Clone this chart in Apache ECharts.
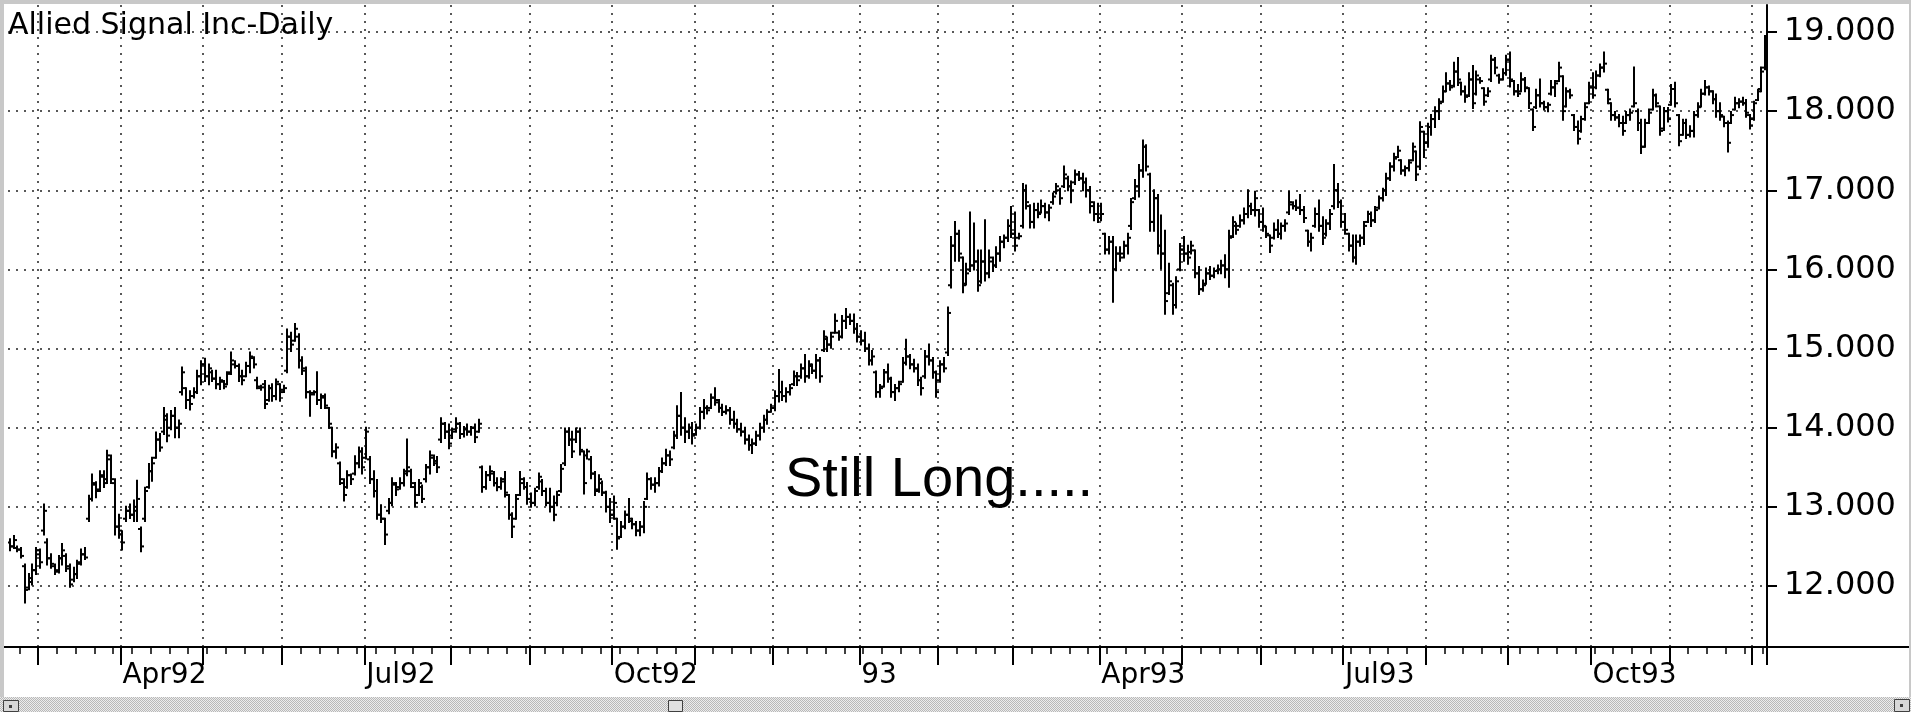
<!DOCTYPE html>
<html>
<head>
<meta charset="UTF-8">
<title>Allied Signal Inc-Daily</title>
<style>
	html, body { margin: 0; padding: 0; background: #fff; }
	#chart { width: 1911px; height: 712px; }
</style>
</head>
<body>
<div id="chart"></div>
<script src="https://cdn.jsdelivr.net/npm/echarts@6/dist/echarts.min.js"></script>
<script>
// daily bars, one array per month: [open, high, low, close]
var feb92 = [[12.55,12.59,12.45,12.50],[12.50,12.63,12.48,12.58],[12.48,12.50,12.44,12.46],[12.46,12.48,12.36,12.38],[12.25,12.27,11.79,11.95],[11.98,12.15,11.96,12.10],[12.05,12.27,12.02,12.20],[12.20,12.48,12.15,12.45]];
var mar92 = [[12.40,12.46,12.23,12.30],[12.70,13.03,12.65,12.95],[12.55,12.59,12.27,12.35],[12.35,12.40,12.23,12.28],[12.25,12.27,12.15,12.18],[12.20,12.38,12.17,12.35],[12.35,12.53,12.27,12.45],[12.38,12.40,12.19,12.25],[12.22,12.27,11.99,12.02],[12.08,12.23,12.06,12.15],[12.15,12.32,12.10,12.28],[12.30,12.46,12.27,12.40],[12.40,12.48,12.34,12.36],[12.85,13.14,12.82,13.10],[13.10,13.41,13.08,13.30],[13.28,13.31,13.12,13.20],[13.22,13.45,13.20,13.40],[13.38,13.45,13.25,13.30],[13.35,13.71,13.30,13.65],[13.60,13.65,13.30,13.35],[13.30,13.35,12.65,12.75],[12.75,12.90,12.61,12.70]];
var apr92 = [[12.65,12.69,12.46,12.55],[12.85,13.00,12.82,12.95],[12.95,13.03,12.86,12.90],[12.90,13.08,12.82,13.00],[12.95,13.33,12.82,13.10],[12.72,12.74,12.44,12.50],[12.85,13.24,12.82,13.20],[13.25,13.54,13.24,13.45],[13.45,13.62,13.33,13.55],[13.62,13.94,13.62,13.85],[13.85,13.92,13.71,13.75],[13.95,14.25,13.92,14.15],[14.10,14.17,13.83,13.90],[14.00,14.21,13.98,14.15],[14.15,14.25,13.88,14.00],[14.00,14.09,13.88,14.05],[14.45,14.76,14.42,14.70],[14.50,14.50,14.25,14.35],[14.35,14.46,14.23,14.30],[14.40,14.50,14.38,14.45],[14.45,14.72,14.44,14.65],[14.65,14.84,14.55,14.80]];
var may92 = [[14.80,14.87,14.59,14.65],[14.65,14.80,14.55,14.75],[14.70,14.72,14.59,14.62],[14.62,14.72,14.50,14.55],[14.55,14.63,14.49,14.60],[14.58,14.59,14.50,14.52],[14.55,14.70,14.55,14.68],[14.70,14.95,14.68,14.85],[14.80,14.84,14.76,14.78],[14.78,14.80,14.59,14.65],[14.65,14.72,14.55,14.60],[14.65,14.82,14.65,14.78],[14.78,14.95,14.70,14.90],[14.88,14.89,14.76,14.80],[14.60,14.63,14.50,14.52],[14.50,14.53,14.48,14.51],[14.55,14.59,14.25,14.30],[14.35,14.53,14.34,14.50],[14.50,14.55,14.34,14.40],[14.40,14.61,14.36,14.58],[14.55,14.55,14.34,14.45]];
var jun92 = [[14.48,14.53,14.45,14.50],[14.72,15.24,14.70,15.15],[15.15,15.20,14.97,15.05],[15.10,15.31,15.10,15.25],[15.15,15.18,14.76,14.85],[14.85,14.89,14.68,14.75],[14.72,14.76,14.38,14.45],[14.45,14.46,14.15,14.42],[14.44,14.46,14.42,14.45],[14.45,14.70,14.30,14.35],[14.35,14.42,14.25,14.38],[14.40,14.42,14.25,14.28],[14.25,14.25,14.00,14.05],[14.00,14.00,13.64,13.70],[13.70,13.79,13.62,13.75],[13.55,13.56,13.29,13.35],[13.30,13.35,13.08,13.15],[13.25,13.45,13.24,13.40],[13.40,13.41,13.29,13.35],[13.42,13.64,13.41,13.55],[13.55,13.75,13.50,13.70],[13.70,13.74,13.42,13.50]];
var jul92 = [[13.62,14.00,13.61,13.95],[13.60,13.63,13.30,13.35],[13.35,13.45,13.13,13.20],[13.20,13.34,12.85,12.90],[12.90,13.02,12.81,12.85],[12.85,12.85,12.53,12.65],[12.95,13.10,12.92,13.05],[13.05,13.36,13.02,13.30],[13.28,13.30,13.15,13.22],[13.25,13.36,13.23,13.30],[13.30,13.47,13.27,13.42],[13.45,13.85,13.40,13.50],[13.45,13.47,13.25,13.30],[13.25,13.30,13.00,13.05],[13.15,13.34,13.15,13.30],[13.25,13.27,13.06,13.10],[13.35,13.53,13.32,13.50],[13.50,13.70,13.42,13.65],[13.62,13.65,13.53,13.58],[13.55,13.63,13.44,13.50],[13.85,14.12,13.82,14.05],[14.05,14.06,13.87,13.95],[13.95,14.04,13.74,13.80]];
var aug92 = [[13.90,13.99,13.87,13.95],[13.98,14.12,13.95,14.05],[14.05,14.06,13.87,13.92],[13.92,14.01,13.89,13.98],[13.98,14.04,13.91,13.95],[13.95,14.01,13.91,14.00],[14.00,14.04,13.82,13.88],[13.95,14.10,13.95,14.05],[13.50,13.51,13.19,13.25],[13.25,13.44,13.23,13.40],[13.40,13.51,13.34,13.45],[13.42,13.44,13.27,13.30],[13.30,13.36,13.21,13.25],[13.25,13.36,13.23,13.32],[13.35,13.44,13.13,13.18],[13.15,13.15,12.85,12.90],[12.90,12.92,12.62,12.75],[12.85,13.15,12.85,13.10],[13.15,13.44,13.15,13.35],[13.30,13.36,13.23,13.25],[13.25,13.30,13.04,13.10]];
var sep92 = [[13.10,13.17,13.00,13.05],[13.05,13.23,13.02,13.20],[13.25,13.42,13.23,13.38],[13.32,13.34,13.15,13.20],[13.20,13.23,13.02,13.05],[13.05,13.23,12.94,13.00],[13.00,13.13,12.83,12.90],[13.05,13.19,13.02,13.15],[13.20,13.53,13.19,13.48],[13.55,13.99,13.53,13.95],[13.95,13.99,13.78,13.85],[13.85,13.95,13.63,13.70],[13.85,13.99,13.82,13.95],[13.95,13.99,13.66,13.72],[13.70,13.70,13.17,13.30],[13.65,13.72,13.61,13.70],[13.60,13.63,13.36,13.42],[13.42,13.44,13.15,13.20],[13.22,13.40,13.19,13.35],[13.30,13.32,13.15,13.18],[13.18,13.19,12.94,13.00],[13.00,13.10,12.81,12.90]];
var oct92 = [[12.90,13.13,12.85,13.05],[12.85,12.85,12.47,12.60],[12.62,12.81,12.62,12.75],[12.75,12.94,12.73,12.90],[12.90,13.10,12.81,12.85],[12.82,12.85,12.73,12.78],[12.78,12.81,12.64,12.70],[12.70,12.81,12.64,12.75],[12.75,13.06,12.68,13.00],[13.10,13.42,13.10,13.35],[13.35,13.36,13.23,13.28],[13.28,13.36,13.19,13.30],[13.30,13.49,13.27,13.45],[13.45,13.61,13.44,13.55],[13.55,13.72,13.53,13.65],[13.65,13.70,13.53,13.60],[13.75,13.95,13.74,13.90],[13.90,14.27,13.87,14.15],[14.15,14.44,13.91,14.00],[14.00,14.12,13.82,13.95],[13.95,14.04,13.87,14.00],[14.00,14.06,13.80,13.90]];
var nov92 = [[13.92,14.04,13.91,14.00],[14.00,14.25,13.99,14.20],[14.20,14.35,14.12,14.25],[14.25,14.27,14.18,14.22],[14.25,14.42,14.25,14.38],[14.38,14.50,14.29,14.35],[14.32,14.35,14.20,14.25],[14.25,14.29,14.16,14.20],[14.20,14.27,14.18,14.22],[14.22,14.25,14.05,14.10],[14.10,14.20,14.00,14.05],[14.05,14.10,13.95,13.98],[13.98,14.05,13.90,13.95],[13.95,14.00,13.80,13.85],[13.85,13.90,13.72,13.78],[13.78,13.85,13.68,13.80],[13.80,13.95,13.78,13.90],[13.90,14.05,13.85,14.00],[14.00,14.15,13.95,14.10],[14.10,14.22,14.05,14.20],[14.20,14.29,14.20,14.25]];
var dec92 = [[14.25,14.46,14.22,14.40],[14.40,14.73,14.33,14.45],[14.45,14.58,14.35,14.40],[14.40,14.50,14.33,14.45],[14.45,14.54,14.42,14.50],[14.55,14.71,14.54,14.65],[14.65,14.69,14.54,14.60],[14.65,14.80,14.63,14.75],[14.75,14.92,14.58,14.65],[14.65,14.84,14.63,14.80],[14.78,14.80,14.69,14.72],[14.72,14.92,14.63,14.85],[14.85,14.88,14.58,14.65],[14.98,15.22,14.97,15.15],[15.12,15.14,14.97,15.05],[15.05,15.20,15.01,15.15],[15.20,15.43,15.20,15.35],[15.20,15.22,15.11,15.15],[15.15,15.41,15.14,15.35],[15.35,15.50,15.26,15.40],[15.40,15.43,15.31,15.35],[15.35,15.43,15.20,15.25],[15.25,15.31,15.09,15.15]];
var jan93 = [[15.15,15.22,15.05,15.10],[15.10,15.20,14.97,15.00],[15.00,15.05,14.80,14.85],[14.85,14.97,14.80,14.90],[14.70,14.71,14.39,14.45],[14.45,14.54,14.39,14.50],[14.52,14.73,14.52,14.70],[14.70,14.80,14.58,14.62],[14.62,14.63,14.39,14.45],[14.45,14.54,14.35,14.50],[14.50,14.58,14.46,14.55],[14.58,14.88,14.58,14.82],[14.82,15.11,14.80,14.90],[14.90,14.92,14.75,14.80],[14.80,14.86,14.71,14.75],[14.75,14.80,14.54,14.60],[14.60,14.63,14.42,14.50],[14.65,14.97,14.63,14.90],[14.90,15.05,14.80,14.85],[14.85,14.88,14.63,14.70],[14.70,14.71,14.39,14.45]];
var feb93 = [[14.60,14.84,14.58,14.80],[14.80,14.88,14.71,14.75],[14.95,15.52,14.92,15.45],[15.80,16.41,15.77,16.30],[16.30,16.60,16.11,16.45],[16.45,16.49,16.11,16.20],[16.15,16.15,15.71,15.80],[15.82,16.07,15.81,15.95],[16.00,16.72,15.98,16.05],[16.05,16.58,16.00,16.10],[16.10,16.24,15.73,15.80],[15.85,16.24,15.83,16.10],[16.10,16.62,15.86,15.95],[15.95,16.24,15.90,16.15],[16.10,16.15,15.98,16.05],[16.05,16.28,16.03,16.20],[16.20,16.41,16.11,16.35],[16.35,16.43,16.28,16.40],[16.40,16.62,16.36,16.55],[16.55,16.79,16.41,16.45]];
var mar93 = [[16.45,16.72,16.24,16.30],[16.40,16.45,16.39,16.42],[16.55,17.08,16.53,17.00],[17.00,17.06,16.77,16.85],[16.80,16.81,16.53,16.60],[16.60,16.83,16.53,16.75],[16.75,16.83,16.66,16.70],[16.72,16.87,16.72,16.80],[16.80,16.83,16.66,16.72],[16.72,16.81,16.62,16.78],[16.85,16.96,16.83,16.92],[16.98,17.08,16.96,17.05],[17.00,17.02,16.83,16.90],[17.05,17.30,17.04,17.20],[17.15,17.17,17.00,17.05],[17.05,17.11,16.85,17.00],[17.10,17.25,17.08,17.20],[17.20,17.23,17.13,17.15],[17.15,17.21,17.00,17.10],[17.10,17.15,16.92,17.00],[17.00,17.04,16.72,16.85],[16.80,16.85,16.62,16.70],[16.70,16.83,16.60,16.65]];
var apr93 = [[16.65,16.83,16.62,16.70],[16.45,16.45,16.20,16.25],[16.25,16.41,16.20,16.35],[16.35,16.41,15.59,16.00],[16.00,16.28,15.99,16.20],[16.20,16.28,16.11,16.15],[16.20,16.35,16.15,16.30],[16.30,16.45,16.20,16.40],[16.55,16.89,16.51,16.85],[16.90,17.13,16.89,17.05],[17.05,17.32,16.92,17.25],[17.25,17.63,17.17,17.55],[17.55,17.57,17.25,17.30],[17.20,17.21,16.49,16.60],[16.60,17.00,16.49,16.90],[16.90,16.94,16.20,16.30],[16.30,16.68,16.01,16.20],[16.20,16.49,15.44,15.60],[15.70,16.07,15.69,15.85],[15.80,15.82,15.44,15.55],[15.55,15.90,15.52,15.85],[16.00,16.32,15.99,16.25]];
var may93 = [[16.25,16.41,16.11,16.20],[16.20,16.30,16.07,16.15],[16.22,16.35,16.20,16.30],[16.24,16.24,15.90,15.95],[15.95,16.03,15.69,15.75],[15.75,15.86,15.73,15.80],[15.82,16.01,15.82,15.95],[15.95,16.03,15.88,15.92],[15.92,16.01,15.90,15.98],[15.98,16.05,15.95,16.00],[16.00,16.11,15.95,16.05],[16.05,16.18,15.90,16.00],[16.00,16.49,15.78,16.40],[16.42,16.66,16.41,16.60],[16.55,16.58,16.45,16.50],[16.55,16.68,16.54,16.62],[16.62,16.77,16.58,16.70],[16.70,17.00,16.66,16.80],[16.80,16.83,16.70,16.75],[16.75,16.98,16.68,16.90],[16.75,16.75,16.54,16.60]];
var jun93 = [[16.60,16.77,16.49,16.55],[16.54,16.54,16.41,16.45],[16.43,16.43,16.22,16.30],[16.40,16.58,16.39,16.50],[16.50,16.62,16.41,16.45],[16.45,16.58,16.39,16.55],[16.55,16.62,16.49,16.58],[16.72,16.98,16.70,16.85],[16.82,16.85,16.77,16.80],[16.80,16.87,16.75,16.78],[16.78,16.94,16.70,16.75],[16.75,16.79,16.60,16.65],[16.49,16.49,16.30,16.35],[16.35,16.45,16.24,16.40],[16.55,16.77,16.54,16.70],[16.70,16.87,16.49,16.55],[16.55,16.66,16.32,16.40],[16.45,16.62,16.43,16.58],[16.58,16.75,16.51,16.70],[16.80,17.32,16.77,17.00],[17.00,17.08,16.79,16.85],[16.85,16.87,16.54,16.60]];
var jul93 = [[16.60,16.70,16.45,16.50],[16.45,16.45,16.24,16.30],[16.30,16.43,16.10,16.15],[16.15,16.43,16.07,16.35],[16.35,16.43,16.30,16.40],[16.40,16.60,16.32,16.55],[16.60,16.73,16.60,16.70],[16.70,16.72,16.55,16.62],[16.62,16.79,16.60,16.75],[16.78,16.92,16.77,16.90],[16.90,17.02,16.87,17.00],[17.00,17.21,16.94,17.15],[17.15,17.34,17.13,17.30],[17.30,17.46,17.25,17.40],[17.42,17.55,17.42,17.50],[17.38,17.38,17.21,17.25],[17.25,17.30,17.19,17.28],[17.28,17.38,17.25,17.35],[17.38,17.59,17.38,17.55],[17.49,17.49,17.13,17.20],[17.30,17.86,17.27,17.80],[17.74,17.74,17.42,17.60]];
var aug93 = [[17.60,17.84,17.55,17.80],[17.80,17.95,17.70,17.90],[17.90,18.05,17.80,18.00],[18.00,18.15,17.90,18.10],[18.12,18.31,18.12,18.25],[18.25,18.48,18.25,18.35],[18.35,18.38,18.27,18.30],[18.32,18.61,18.31,18.50],[18.50,18.67,18.33,18.40],[18.36,18.36,18.21,18.25],[18.25,18.31,18.12,18.18],[18.20,18.48,18.19,18.40],[18.40,18.57,18.04,18.10],[18.22,18.50,18.21,18.45],[18.40,18.42,18.36,18.38],[18.29,18.29,18.08,18.12],[18.20,18.29,18.19,18.25],[18.40,18.70,18.38,18.65],[18.65,18.67,18.48,18.55],[18.45,18.46,18.36,18.40],[18.40,18.53,18.40,18.48],[18.48,18.70,18.46,18.65]];
var sep93 = [[18.65,18.74,18.31,18.40],[18.38,18.38,18.21,18.25],[18.25,18.33,18.19,18.22],[18.25,18.48,18.25,18.40],[18.40,18.42,18.25,18.30],[18.29,18.29,18.04,18.10],[18.02,18.02,17.76,17.80],[18.05,18.27,18.04,18.20],[18.20,18.40,18.06,18.10],[18.10,18.12,18.02,18.05],[18.05,18.10,18.00,18.08],[18.22,18.38,18.21,18.30],[18.30,18.38,18.19,18.35],[18.38,18.61,18.38,18.55],[18.44,18.44,17.89,18.00],[18.06,18.29,18.06,18.25],[18.25,18.27,18.17,18.20],[17.95,17.95,17.76,17.80],[17.80,17.87,17.59,17.65],[17.75,17.93,17.74,17.90],[17.90,18.10,17.89,18.05],[18.10,18.36,18.10,18.30]];
var oct93 = [[18.30,18.48,18.17,18.20],[18.30,18.50,18.29,18.45],[18.45,18.59,18.44,18.55],[18.55,18.74,18.50,18.60],[18.27,18.27,18.10,18.15],[18.10,18.10,17.89,17.95],[17.95,17.99,17.89,17.92],[17.92,17.95,17.81,17.85],[17.85,17.93,17.70,17.75],[17.85,17.99,17.85,17.95],[17.95,18.02,17.89,17.98],[18.06,18.55,18.06,18.10],[18.00,18.02,17.76,17.85],[17.85,17.89,17.47,17.55],[17.55,17.89,17.55,17.85],[17.85,18.02,17.85,17.98],[18.02,18.27,18.02,18.20],[18.20,18.21,18.06,18.10],[18.06,18.06,17.70,17.75],[17.78,18.04,17.76,18.00],[18.00,18.04,17.87,17.90]];
var nov93 = [[18.08,18.33,18.08,18.28],[18.28,18.36,18.06,18.10],[17.95,17.95,17.57,17.62],[17.70,17.89,17.70,17.85],[17.85,17.89,17.66,17.70],[17.70,17.81,17.68,17.75],[17.75,17.99,17.68,17.95],[17.95,18.10,17.93,18.05],[18.06,18.27,18.06,18.22],[18.22,18.38,18.21,18.30],[18.30,18.31,18.21,18.25],[18.25,18.25,18.10,18.15],[18.15,18.21,17.93,18.00],[18.00,18.10,17.89,17.95],[17.93,17.93,17.81,17.85],[17.85,17.87,17.49,17.60],[17.85,17.99,17.85,17.95],[18.02,18.17,18.02,18.10],[18.10,18.15,18.05,18.12],[18.12,18.17,18.08,18.10],[18.10,18.14,17.93,17.98],[17.95,17.95,17.78,17.82]];
var dec93 = [[17.90,18.12,17.89,18.10],[18.14,18.27,18.14,18.25],[18.28,18.55,18.25,18.50],[18.55,18.95,18.53,18.85]];

var months = [feb92, mar92, apr92, may92, jun92, jul92, aug92, sep92, oct92, nov92, dec92,
	jan93, feb93, mar93, apr93, may93, jun93, jul93, aug93, sep93, oct93, nov93, dec93];
var firstDay = [1992, 1, 19];	// first bar: 19 Feb 1992
// label text for the quarter months (January shows the year only)
var quarterNames = { 1: '', 4: 'Apr', 7: 'Jul', 10: 'Oct' };
var priceTicks = [12, 13, 14, 15, 16, 17, 18, 19];

var bars = [].concat.apply([], months);

// trading days (weekdays) for the category axis
var dates = [];
var d = new Date(Date.UTC(firstDay[0], firstDay[1], firstDay[2]));
while (dates.length < bars.length) {
	var wd = d.getUTCDay();
	if (wd !== 0 && wd !== 6) dates.push(d.toISOString().slice(0, 10));
	d.setUTCDate(d.getUTCDate() + 1);
}

function monthStart(i) {
	return i > 0 && i < dates.length && dates[i].slice(5, 7) !== dates[i - 1].slice(5, 7);
}
function weekStart(i) {
	return i > 0 && i < dates.length && new Date(dates[i]).getUTCDay() === 1 && !monthStart(i);
}
function quarterStart(i) {
	return monthStart(i) && (+dates[i].slice(5, 7)) in quarterNames;
}
function dateLabel(v) {
	return quarterNames[+v.slice(5, 7)] + v.slice(2, 4);
}

var gridLeft = 8, gridRight = 144, gridTop = 5, gridBottom = 65;
var W = 1911, H = 712;
var axisY = H - gridBottom;
var dotted = { color: '#222', width: 1.5, type: [2, 6] };

// scrollbar hatch
var hatch = document.createElement('canvas');
hatch.width = 2; hatch.height = 2;
var hc = hatch.getContext('2d');
hc.fillStyle = '#ececec'; hc.fillRect(0, 0, 2, 2);
hc.fillStyle = '#b8b8b8'; hc.fillRect(0, 0, 1, 1); hc.fillRect(1, 1, 1, 1);

var chart = echarts.init(document.getElementById('chart'));
chart.setOption({
	backgroundColor: '#fff',
	animation: false,
	grid: { left: gridLeft, right: gridRight, top: gridTop, bottom: gridBottom },
	xAxis: [{
		type: 'category',
		data: dates,
		position: 'bottom',
		boundaryGap: true,
		axisLine: { show: true, onZero: false, lineStyle: { color: '#000', width: 2 } },
		axisTick: { show: true, length: 7, interval: weekStart, lineStyle: { color: '#000', width: 1.5 } },
		axisLabel: { show: false },
		splitLine: { show: false }
	}, {
		type: 'category',
		data: dates,
		position: 'bottom',
		boundaryGap: true,
		axisLine: { show: false, onZero: false },
		axisTick: { show: true, length: 18, interval: monthStart, lineStyle: { color: '#000', width: 2 } },
		axisLabel: {
			show: true,
			interval: quarterStart,
			formatter: dateLabel,
			align: 'left',
			margin: 15,
			color: '#000',
			fontFamily: 'DejaVu Sans',
			fontSize: 28
		},
		splitLine: { show: true, interval: monthStart, lineStyle: dotted }
	}],
	yAxis: {
		type: 'value',
		position: 'right',
		min: 11.229,
		max: 19.341,
		splitNumber: priceTicks.length,
		axisLine: { show: true, lineStyle: { color: '#000', width: 2 } },
		axisTick: { show: true, length: 10, lineStyle: { color: '#000', width: 2 } },
		axisLabel: {
			showMinLabel: false,
			showMaxLabel: false,
			margin: 17,
			color: '#000',
			fontFamily: 'DejaVu Sans',
			fontSize: 32,
			formatter: function (v) { return v.toFixed(3); }
		},
		splitLine: { show: true, showMinLine: false, showMaxLine: false, lineStyle: dotted }
	},
	series: [{
		type: 'custom',
		xAxisIndex: 0,
		clip: true,
		encode: { x: 0, y: [1, 2, 3, 4] },
		data: bars.map(function (b, i) { return [i, b[0], b[1], b[2], b[3]]; }),
		renderItem: function (params, api) {
			var i = api.value(0);
			var pO = api.coord([i, api.value(1)]);
			var pH = api.coord([i, api.value(2)]);
			var pL = api.coord([i, api.value(3)]);
			var pC = api.coord([i, api.value(4)]);
			var x = Math.round(pH[0]);
			var st = { stroke: '#000', lineWidth: 2 };
			return {
				type: 'group',
				children: [
					{ type: 'line', shape: { x1: x, y1: pH[1] - 1, x2: x, y2: pL[1] + 1 }, style: st },
					{ type: 'line', shape: { x1: x - 3, y1: pO[1], x2: x, y2: pO[1] }, style: st },
					{ type: 'line', shape: { x1: x, y1: pC[1], x2: x + 3, y2: pC[1] }, style: st }
				]
			};
		}
	}],
	graphic: [
		// axis line runs on past the price scale
		{ type: 'line', shape: { x1: W - gridRight, y1: axisY, x2: W, y2: axisY }, style: { stroke: '#000', lineWidth: 2 }, z: 10 },
		{ type: 'line', shape: { x1: 4, y1: axisY, x2: gridLeft, y2: axisY }, style: { stroke: '#000', lineWidth: 2 }, z: 10 },
		{ type: 'text', x: 8, y: 26, style: { text: 'Allied Signal Inc-Daily', font: '30px "DejaVu Sans"', fill: '#000', verticalAlign: 'middle' }, z: 10 },
		{ type: 'text', x: 785, y: 481, style: { text: 'Still Long.....', font: '56px "Liberation Sans"', fill: '#000', verticalAlign: 'middle' }, z: 10 },
		// window frame
		{ type: 'rect', shape: { x: 0, y: 0, width: W, height: 4 }, style: { fill: '#c8c8c8' }, z: 20 },
		{ type: 'rect', shape: { x: 0, y: 0, width: 4, height: H }, style: { fill: '#c8c8c8' }, z: 20 },
		{ type: 'rect', shape: { x: W - 2, y: 0, width: 2, height: H }, style: { fill: '#c8c8c8' }, z: 20 },
		// scrollbar
		{ type: 'rect', shape: { x: 0, y: 697, width: W, height: 15 }, style: { fill: { image: hatch, repeat: 'repeat' } }, z: 20 },
		{ type: 'rect', shape: { x: 3.5, y: 700.5, width: 15, height: 11 }, style: { fill: '#d8d8d8', stroke: '#404040', lineWidth: 1 }, z: 21 },
		{ type: 'rect', shape: { x: 9, y: 705, width: 3, height: 3 }, style: { fill: '#404040' }, z: 22 },
		{ type: 'rect', shape: { x: 668.5, y: 700.5, width: 14, height: 11 }, style: { fill: '#e0e0e0', stroke: '#404040', lineWidth: 1 }, z: 21 },
		{ type: 'rect', shape: { x: 1894.5, y: 699.5, width: 15, height: 12 }, style: { fill: '#d8d8d8', stroke: '#404040', lineWidth: 1 }, z: 21 },
		{ type: 'rect', shape: { x: 1900, y: 704, width: 3, height: 3 }, style: { fill: '#404040' }, z: 22 }
	]
});
</script>
</body>
</html>
